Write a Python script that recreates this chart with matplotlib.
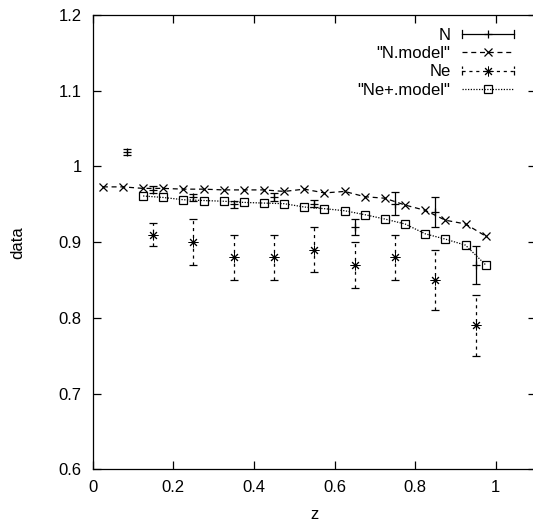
import matplotlib
matplotlib.use("Agg")
import matplotlib.pyplot as plt
from matplotlib.lines import Line2D
from matplotlib.legend_handler import HandlerLine2D
from matplotlib.ticker import FormatStrFormatter

# data
n_z = [0.085, 0.15, 0.25, 0.35, 0.45, 0.55, 0.65, 0.75, 0.85, 0.95]
n_val = [1.019, 0.969, 0.959, 0.950, 0.960, 0.951, 0.920, 0.951, 0.940, 0.870]
n_err = [0.004, 0.0045, 0.0045, 0.005, 0.005, 0.005, 0.010, 0.015, 0.020, 0.025]

nmodel_z = [0.025, 0.075, 0.125, 0.175, 0.225, 0.275, 0.325, 0.375, 0.425, 0.475,
            0.525, 0.575, 0.625, 0.675, 0.725, 0.775, 0.825, 0.875, 0.925, 0.975]
nmodel_val = [0.973, 0.973, 0.971, 0.971, 0.970, 0.970, 0.969, 0.969, 0.969, 0.967,
              0.970, 0.965, 0.967, 0.960, 0.958, 0.949, 0.942, 0.929, 0.924, 0.908]

ne_z = [0.15, 0.25, 0.35, 0.45, 0.55, 0.65, 0.75, 0.85, 0.95]
ne_val = [0.91, 0.90, 0.88, 0.88, 0.89, 0.87, 0.88, 0.85, 0.79]
ne_err = [0.015, 0.03, 0.03, 0.03, 0.03, 0.03, 0.03, 0.04, 0.04]

nemodel_z = [0.125, 0.175, 0.225, 0.275, 0.325, 0.375, 0.425, 0.475, 0.525,
             0.575, 0.625, 0.675, 0.725, 0.775, 0.825, 0.875, 0.925, 0.975]
nemodel_val = [0.961, 0.959, 0.956, 0.955, 0.954, 0.9525, 0.9516, 0.9508, 0.9464,
               0.9442, 0.9415, 0.9363, 0.9305, 0.924, 0.911, 0.904, 0.896, 0.870]

xticks = [0, 0.2, 0.4, 0.6, 0.8, 1.0]
yticks = [0.6, 0.7, 0.8, 0.9, 1.0, 1.1, 1.2]

plt.rcParams['font.family'] = ['Liberation Sans', 'DejaVu Sans']
plt.rcParams['font.size'] = 12

lw = 0.9
dash_n = (0, (4, 3))
dash_ne = (0, (2.5, 3))
dot_ne = (0, (1, 1.2))
star = (8, 2, 0)

fig = plt.figure(figsize=(5.33, 5.23), dpi=100)
ax = fig.add_axes([0.174, 0.1027, 0.8317, 0.8686])

# N with solid error bars
ax.errorbar(n_z, n_val, yerr=n_err, fmt='+', color='k', ms=6, mew=lw,
            elinewidth=lw, capsize=2.8, capthick=lw)

# N.model
ax.plot(nmodel_z, nmodel_val, color='k', lw=lw, ls=dash_n, marker='x', ms=6, mew=lw)

# Ne with dashed error bars
eb = ax.errorbar(ne_z, ne_val, yerr=ne_err, fmt='none', color='k',
                 elinewidth=lw, capsize=2.8, capthick=lw)
eb[2][0].set_linestyle(dash_ne)
ax.plot(ne_z, ne_val, ls='none', color='k', marker=star, ms=7, mew=0.7)

# Ne+.model
ax.plot(nemodel_z, nemodel_val, color='k', lw=lw, ls=dot_ne, marker='s', ms=6,
        mew=lw, mfc='none')

ax.set_xlim(0, 1.1)
ax.set_ylim(0.6, 1.2)
ax.set_xticks(xticks)
ax.set_yticks(yticks)
ax.xaxis.set_major_formatter(FormatStrFormatter('%g'))
ax.yaxis.set_major_formatter(FormatStrFormatter('%g'))
ax.tick_params(direction='in', length=5.8, width=lw, top=True, right=True, pad=8)
for s in ax.spines.values():
    s.set_linewidth(lw)
ax.set_xlabel('z', labelpad=8)
ax.set_ylabel('data', labelpad=24)


class CapHandler(HandlerLine2D):
    def create_artists(self, legend, orig_handle, xdescent, ydescent, width,
                       height, fontsize, trans):
        arts = super().create_artists(legend, orig_handle, xdescent, ydescent,
                                      width, height, fontsize, trans)
        y = height / 2 - ydescent
        h = height * 0.35
        for x in (-xdescent, width - xdescent):
            cap = Line2D([x, x], [y - h, y + h], color='k', lw=lw,
                         ls=orig_handle.get_linestyle())
            cap.set_transform(trans)
            arts.append(cap)
        return arts


h_n = Line2D([], [], color='k', lw=lw, ls='-', marker='+', ms=6, mew=lw)
h_nm = Line2D([], [], color='k', lw=lw, ls=dash_n, marker='x', ms=6, mew=lw)
h_ne = Line2D([], [], color='k', lw=lw, ls=dash_ne, marker=star, ms=7, mew=0.7)
h_nem = Line2D([], [], color='k', lw=lw, ls=dot_ne, marker='s', ms=6, mew=lw, mfc='none')

ax.legend([h_n, h_nm, h_ne, h_nem], ['N', '"N.model"', 'Ne', '"Ne+.model"'],
          handler_map={h_n: CapHandler(), h_ne: CapHandler()},
          loc='upper right', bbox_to_anchor=(0.95, 0.972), borderpad=0,
          borderaxespad=0, frameon=False, markerfirst=False, numpoints=1,
          handlelength=3.1, handletextpad=0.7, labelspacing=0.2, fontsize=12)

fig.savefig('out.png', dpi=100)
